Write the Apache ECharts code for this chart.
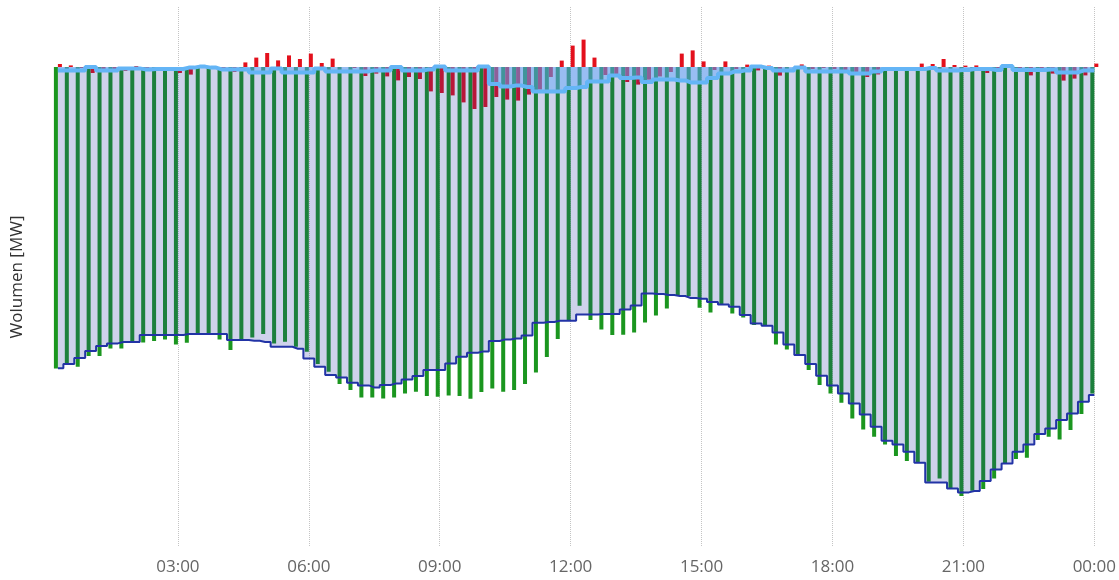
<!DOCTYPE html>
<html>
<head>
<meta charset="utf-8">
<title>Wolumen</title>
<script src="https://cdn.jsdelivr.net/npm/echarts@6/dist/echarts.min.js"></script>
<style>
  html, body { margin: 0; padding: 0; background: #fff; }
  #chart { width: 1119px; height: 580px; }
</style>
</head>
<body>
<div id="chart"></div>
<script>
// 96 kwadransów, wartości w MW (odczyt z wykresu)
const zakup = [
  -1507, -1485, -1499, -1445, -1445, -1407, -1407, -1374, -1377, -1370,
  -1362, -1387, -1379, -1332, -1332, -1362, -1415, -1362, -1352, -1335,
  -1382, -1374, -1399, -1424, -1485, -1524, -1585, -1615, -1652, -1652,
  -1657, -1652, -1632, -1624, -1645, -1649, -1642, -1645, -1659, -1625,
  -1607, -1624, -1615, -1585, -1527, -1450, -1360, -1265, -1194, -1265,
  -1312, -1340, -1339, -1327, -1277, -1242, -1207, -1140, -1145, -1204,
  -1227, -1187, -1232, -1252, -1290, -1294, -1387, -1412, -1435, -1515,
  -1590, -1632, -1679, -1757, -1812, -1849, -1887, -1945, -1970, -1979,
  -2074, -2057, -2107, -2145, -2119, -2110, -2057, -1982, -1960, -1954,
  -1865, -1849, -1862, -1815, -1735, -1632
];

const sprzedaz = [
  15, 8, -5, -30, -25, -10, -20, 5, -20, -20,
  -5, -30, -38, 8, 0, -5, -25, 23, 47, 70,
  33, 58, 40, 67, 20, 42, 0, -5, -45, -33,
  -47, -67, -50, -60, -122, -130, -142, -177, -210, -200,
  -150, -163, -168, -138, -113, -50, 32, 107, 137, 47,
  -40, -50, -75, -88, -63, -47, -25, 67, 83, 28,
  -15, 28, -10, 12, -17, 7, -43, 0, 13, -10,
  -5, -10, -30, -25, -50, -37, -10, -5, -10, 17,
  15, 40, 10, 7, 8, -30, -10, 0, -15, -42,
  -15, -33, -68, -58, -42, 17
];

const pozycja = [
  -1506, -1485, -1455, -1420, -1395, -1382, -1375, -1375, -1340, -1340,
  -1340, -1340, -1335, -1335, -1335, -1335, -1365, -1365, -1369, -1375,
  -1399, -1399, -1409, -1457, -1499, -1540, -1552, -1579, -1592, -1602,
  -1590, -1582, -1562, -1545, -1515, -1515, -1482, -1449, -1429, -1422,
  -1370, -1362, -1357, -1342, -1279, -1275, -1269, -1269, -1237, -1237,
  -1235, -1235, -1212, -1192, -1132, -1135, -1140, -1145, -1155, -1159,
  -1175, -1187, -1199, -1240, -1282, -1294, -1327, -1387, -1440, -1485,
  -1544, -1592, -1632, -1682, -1737, -1799, -1869, -1887, -1924, -1979,
  -2077, -2077, -2107, -2127, -2120, -2070, -2012, -1982, -1924, -1887,
  -1835, -1807, -1765, -1732, -1674, -1640
];

const saldo = [
  -18, -18, -18, 0, -18, -18, -7, -7, -12, -10,
  -10, -10, -3, 2, -3, -12, -12, -12, -28, -28,
  -7, -28, -28, -28, -7, -22, -22, -22, -22, -17,
  -17, 0, -18, -18, -12, 2, -18, -18, -18, 2,
  -85, -97, -93, -100, -122, -122, -122, -105, -100, -72,
  -72, -42, -55, -52, -75, -63, -63, -67, -77, -77,
  -55, -33, -23, -17, 2, -5, -18, -18, -3, -22,
  -22, -22, -22, -33, -33, -22, -10, -10, -10, -10,
  -5, -18, -18, -15, -10, -10, -15, 5, -15, -15,
  -15, -12, -27, -27, -18, -18
];

// koniec każdego kwadransu w godzinach: 0.25 ... 24
const godziny = zakup.map((_, i) => (i + 1) / 4);
const pary = vals => vals.map((v, i) => [godziny[i], v]);
const pad = n => (n < 10 ? '0' : '') + n;

const chart = echarts.init(document.getElementById('chart'));
chart.setOption({
  animation: false,
  textStyle: { fontFamily: 'Open Sans' },
  grid: { left: 47, right: 22, top: 7, bottom: 33 },
  xAxis: {
    type: 'value',
    min: 0,
    max: 24,
    interval: 3,
    axisLine: { show: false },
    axisTick: { show: false },
    axisLabel: {
      color: '#666',
      fontSize: 17,
      margin: 12,
      showMinLabel: false,
      formatter: v => pad(v % 24) + ':00'
    },
    splitLine: {
      show: true,
      showMinLine: false,
      lineStyle: { type: 'dotted', color: '#c4c4c4', width: 1 }
    }
  },
  yAxis: {
    type: 'value',
    min: -2400,
    max: 300,
    name: 'Wolumen [MW]',
    nameLocation: 'middle',
    nameGap: 21,
    nameTextStyle: { color: '#333', fontSize: 17 },
    axisLine: { show: false },
    axisTick: { show: false },
    axisLabel: { show: false },
    splitLine: { show: false }
  },
  series: [
    {
      name: 'Zakup',
      type: 'bar',
      data: pary(zakup),
      barWidth: 4,
      barGap: '0%',
      clip: false,
      itemStyle: { color: '#1b961f' },
      z: 1
    },
    {
      name: 'Sprzedaż',
      type: 'bar',
      data: pary(sprzedaz),
      barWidth: 4,
      barGap: '0%',
      clip: false,
      itemStyle: { color: '#e3101c' },
      z: 1
    },
    {
      name: 'Pozycja',
      type: 'line',
      step: 'middle',
      data: pary(pozycja),
      showSymbol: false,
      lineStyle: { color: '#2233a6', width: 2 },
      areaStyle: { color: 'rgba(34,51,166,0.22)', opacity: 1 },
      z: 3
    },
    {
      name: 'Saldo',
      type: 'line',
      step: 'middle',
      data: pary(saldo),
      showSymbol: false,
      lineStyle: { color: '#64b5f6', width: 4 },
      areaStyle: { color: 'rgba(100,170,250,0.5)', opacity: 1 },
      z: 4
    }
  ]
});
</script>
</body>
</html>
